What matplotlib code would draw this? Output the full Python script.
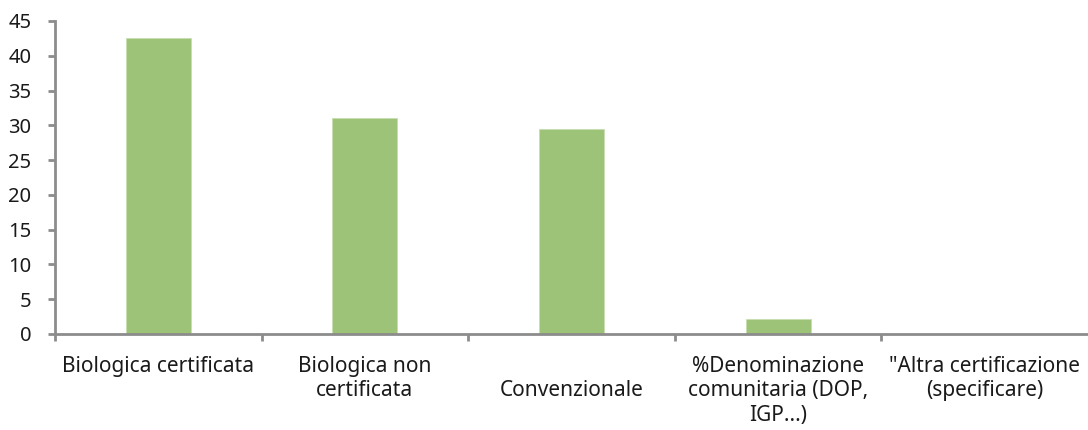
import numpy as np
import matplotlib.pyplot as plt

# data
categories = ['Biologica certificata', 'Biologica non\ncertificata', '\nConvenzionale',
              '%Denominazione\ncomunitaria (DOP,\nIGP...)', '"Altra certificazione\n(specificare)']
values = [42.5, 31.0, 29.5, 2.2, 0.0]
y_ticks = [0, 5, 10, 15, 20, 25, 30, 35, 40, 45]

plt.rcParams['font.family'] = ['Noto Sans', 'DejaVu Sans']
axis_color = '#8c8c8c'
bar_color = '#9dc378'
text_color = '#1a1a1a'

fig = plt.figure(figsize=(10.88, 4.3), dpi=100)
ax = fig.add_axes([0.0506, 0.2233, 0.9494, 0.7279])

x = np.arange(len(categories))
ax.bar(x, values, width=0.315, color=bar_color, edgecolor='#c6deb0', linewidth=0.6)

ax.set_xlim(-0.5, len(categories) - 0.5)
ax.set_ylim(0, 45)
ax.set_yticks(y_ticks)
ax.set_xticks(x)
ax.set_xticklabels(categories, fontsize=15, color=text_color, linespacing=1.2)
ax.set_xticks(np.arange(len(categories)) - 0.5, minor=True)
ax.tick_params(axis='x', which='major', length=0, pad=16)
ax.tick_params(axis='x', which='minor', length=5, width=2, color=axis_color)
ax.tick_params(axis='y', length=5, width=2, color=axis_color, labelsize=14.5,
               labelcolor=text_color, pad=12)

for side in ['top', 'right']:
    ax.spines[side].set_visible(False)
for side in ['left', 'bottom']:
    ax.spines[side].set_color(axis_color)
    ax.spines[side].set_linewidth(2)

fig.savefig('out.png', dpi=100)
